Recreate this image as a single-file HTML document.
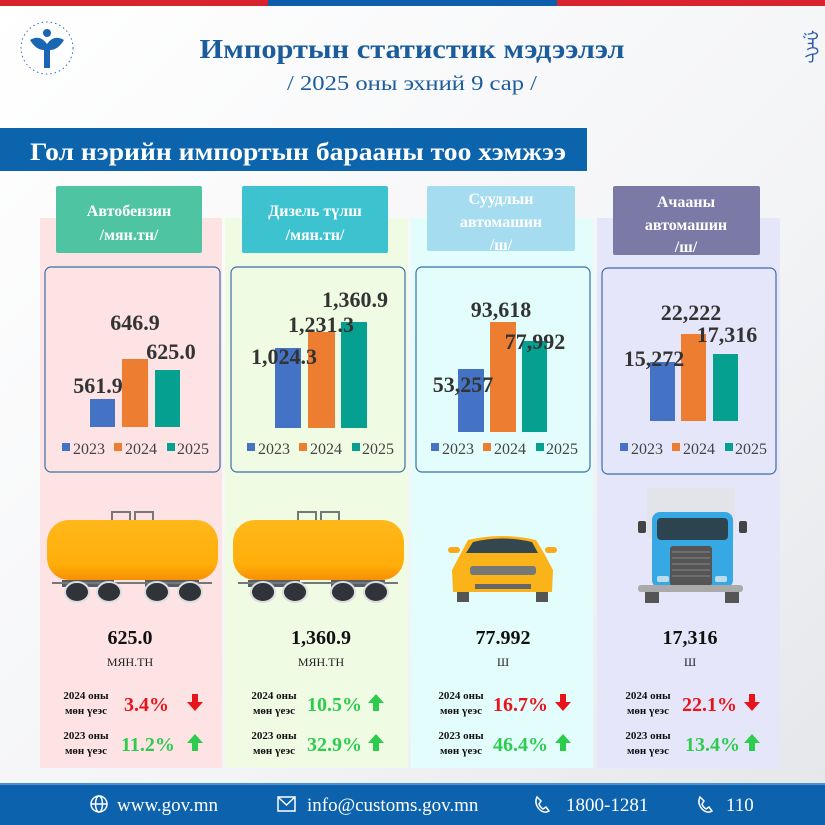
<!DOCTYPE html>
<html><head><meta charset="utf-8"><style>
html,body{margin:0;padding:0;background:#f4f5f7}
svg{display:block}
text{font-family:"Liberation Serif",serif}
.b{font-weight:bold}
</style></head><body>
<svg width="825" height="825" viewBox="0 0 825 825" xmlns="http://www.w3.org/2000/svg">
<defs>
<linearGradient id="bg" x1="0" y1="0" x2="1" y2="1"><stop offset="0" stop-color="#ffffff"/><stop offset="0.6" stop-color="#f3f4f6"/><stop offset="1" stop-color="#e4e6ea"/></linearGradient>
<linearGradient id="tank" x1="0" y1="0" x2="0" y2="1"><stop offset="0" stop-color="#ffb81a"/><stop offset="0.75" stop-color="#ffae0a"/><stop offset="1" stop-color="#f78f05"/></linearGradient>
</defs>
<rect width="825" height="825" fill="url(#bg)"/>
<rect x="0" y="0" width="268" height="6" fill="#d8232f"/>
<rect x="268" y="0" width="289" height="6" fill="#0d5fad"/>
<rect x="557" y="0" width="268" height="6" fill="#d8232f"/>
<circle cx="47" cy="48" r="26" fill="none" stroke="#3d6fb0" stroke-width="1" stroke-dasharray="1.5 3"/>
<path d="M30 40 Q40 34 47 44 Q54 34 64 40 Q58 50 50 50 L50 68 L44 68 L44 50 Q36 50 30 40Z" fill="#1a66b5"/>
<circle cx="47" cy="33" r="4" fill="#1a66b5"/>
<text x="806" y="30" font-size="16" fill="#2a5aa8" transform="rotate(90 806 30)">ᠭᠠᠭᠢ</text>
<text x="412" y="58" text-anchor="middle" class="b" font-size="27" fill="#1b5c9d" textLength="425" lengthAdjust="spacingAndGlyphs">Импортын статистик мэдээлэл</text>
<text x="412" y="90" text-anchor="middle" font-size="21" fill="#1b5c9d" textLength="250" lengthAdjust="spacingAndGlyphs">/ 2025 оны эхний 9 сар /</text>
<rect x="0" y="128" width="587" height="43" fill="#0c64ad"/>
<text x="30" y="160" class="b" font-size="25" fill="#fff" textLength="536" lengthAdjust="spacingAndGlyphs">Гол нэрийн импортын барааны тоо хэмжээ</text>
<rect x="40" y="218" width="182" height="550" fill="#fde3e4"/>
<rect x="225" y="218" width="183" height="550" fill="#f0fbe4"/>
<rect x="411" y="218" width="182" height="550" fill="#e2fdfc"/>
<rect x="597" y="218" width="183" height="550" fill="#e6e6fb"/>
<rect x="56" y="186" width="146" height="67" rx="2" fill="#4ec4a2"/>
<rect x="242" y="186" width="146" height="67" rx="2" fill="#3dc3d0"/>
<rect x="427" y="186" width="148" height="65" rx="2" fill="#a6dcf0"/>
<rect x="613" y="186" width="147" height="69" rx="2" fill="#7b7aa6"/>
<g class="b" font-size="16" fill="#fff" text-anchor="middle">
<text x="129" y="216">Автобензин</text><text x="129" y="240">/мян.тн/</text>
<text x="315" y="216">Дизель түлш</text><text x="315" y="240">/мян.тн/</text>
<text x="501" y="204">Суудлын</text><text x="501" y="227">автомашин</text><text x="501" y="250">/ш/</text>
<text x="686" y="207">Ачааны</text><text x="686" y="230">автомашин</text><text x="686" y="252">/ш/</text>
</g>
<g fill="none" stroke="#3d6ea8" stroke-width="1.2">
<rect x="45" y="267" width="175" height="205" rx="6"/>
<rect x="231" y="267" width="174" height="205" rx="6"/>
<rect x="416" y="267" width="174" height="205" rx="6"/>
<rect x="602" y="268" width="174" height="206" rx="6"/>
</g>
<rect x="90" y="399" width="25" height="28" fill="#4472c4"/><rect x="122" y="359" width="26" height="68" fill="#ed7d31"/><rect x="155" y="370" width="25" height="57" fill="#06a090"/>
<rect x="275" y="348" width="26" height="80" fill="#4472c4"/><rect x="308" y="332" width="27" height="96" fill="#ed7d31"/><rect x="341" y="322" width="26" height="106" fill="#06a090"/>
<rect x="458" y="369" width="26" height="63" fill="#4472c4"/><rect x="490" y="322" width="26" height="110" fill="#ed7d31"/><rect x="522" y="341" width="25" height="91" fill="#06a090"/>
<rect x="650" y="362" width="25" height="59" fill="#4472c4"/><rect x="681" y="334" width="25" height="87" fill="#ed7d31"/><rect x="713" y="354" width="25" height="67" fill="#06a090"/>
<g class="b" font-size="22" fill="#333" text-anchor="middle">
<text x="98" y="393">561.9</text><text x="135" y="330">646.9</text><text x="171" y="359">625.0</text>
<text x="284" y="364">1,024.3</text><text x="321" y="332">1,231.3</text><text x="355" y="307">1,360.9</text>
<text x="463" y="392">53,257</text><text x="501" y="317">93,618</text><text x="535" y="349">77,992</text>
<text x="654" y="366">15,272</text><text x="691" y="320">22,222</text><text x="727" y="342">17,316</text>
</g>
<g font-size="16" fill="#444">
<g transform="translate(62,0)"><rect x="0" y="443" width="8" height="8" fill="#4472c4"/><text x="11" y="454">2023</text><rect x="52" y="443" width="8" height="8" fill="#ed7d31"/><text x="63" y="454">2024</text><rect x="105" y="443" width="8" height="8" fill="#06a090"/><text x="115" y="454">2025</text></g>
<g transform="translate(247,0)"><rect x="0" y="443" width="8" height="8" fill="#4472c4"/><text x="11" y="454">2023</text><rect x="52" y="443" width="8" height="8" fill="#ed7d31"/><text x="63" y="454">2024</text><rect x="105" y="443" width="8" height="8" fill="#06a090"/><text x="115" y="454">2025</text></g>
<g transform="translate(431,0)"><rect x="0" y="443" width="8" height="8" fill="#4472c4"/><text x="11" y="454">2023</text><rect x="52" y="443" width="8" height="8" fill="#ed7d31"/><text x="63" y="454">2024</text><rect x="105" y="443" width="8" height="8" fill="#06a090"/><text x="115" y="454">2025</text></g>
<g transform="translate(620,0)"><rect x="0" y="443" width="8" height="8" fill="#4472c4"/><text x="11" y="454">2023</text><rect x="52" y="443" width="8" height="8" fill="#ed7d31"/><text x="63" y="454">2024</text><rect x="105" y="443" width="8" height="8" fill="#06a090"/><text x="115" y="454">2025</text></g>
</g>
<g id="tk">
<rect x="112" y="512" width="18" height="10" fill="none" stroke="#777" stroke-width="2"/><rect x="135" y="512" width="18" height="10" fill="none" stroke="#777" stroke-width="2"/>
<rect x="47" y="520" width="171" height="60" rx="22" fill="url(#tank)"/>
<rect x="62" y="580" width="52" height="7" fill="#555e66"/><rect x="145" y="580" width="54" height="7" fill="#555e66"/>
<rect x="52" y="582" width="160" height="2" fill="#777"/>
<g fill="#30333a" stroke="#ddd" stroke-width="2"><ellipse cx="77" cy="592" rx="12" ry="10"/><ellipse cx="109" cy="592" rx="12" ry="10"/><ellipse cx="157" cy="592" rx="12" ry="10"/><ellipse cx="190" cy="592" rx="12" ry="10"/></g>
</g>
<use href="#tk" x="186"/>
<g>
<rect x="457" y="590" width="12" height="12" fill="#555"/><rect x="536" y="590" width="12" height="12" fill="#555"/>
<path d="M468 540 Q502 532 536 540 L545 555 L553 570 L552 592 L453 592 L452 570 L460 555Z" fill="#fbb31a"/>
<path d="M473 542 Q502 535 532 542 L538 553 L466 553Z" fill="#34464e"/>
<rect x="448" y="547" width="12" height="6" rx="3" fill="#f9a91a"/><rect x="545" y="547" width="12" height="6" rx="3" fill="#f9a91a"/>
<rect x="470" y="566" width="66" height="9" rx="3" fill="#777"/>
<rect x="475" y="584" width="56" height="5" fill="#666"/>
</g>
<g>
<rect x="647" y="488" width="88" height="50" fill="#e3e3ea"/>
<rect x="645" y="588" width="14" height="15" fill="#555"/><rect x="725" y="588" width="14" height="15" fill="#555"/>
<rect x="652" y="512" width="81" height="76" rx="8" fill="#36a9e4"/>
<rect x="657" y="518" width="71" height="22" rx="4" fill="#2c4450"/>
<rect x="638" y="521" width="8" height="12" rx="2" fill="#444"/><rect x="739" y="521" width="8" height="12" rx="2" fill="#444"/>
<rect x="670" y="546" width="42" height="40" rx="3" fill="#555"/>
<g stroke="#888" stroke-width="1"><line x1="672" y1="552" x2="710" y2="552"/><line x1="672" y1="558" x2="710" y2="558"/><line x1="672" y1="564" x2="710" y2="564"/><line x1="672" y1="570" x2="710" y2="570"/><line x1="672" y1="576" x2="710" y2="576"/></g>
<rect x="657" y="576" width="12" height="6" rx="2" fill="#bde"/><rect x="715" y="576" width="12" height="6" rx="2" fill="#bde"/>
<rect x="638" y="585" width="105" height="7" rx="3" fill="#aaa"/>
</g>
<g class="b" font-size="20" fill="#111" text-anchor="middle">
<text x="130" y="644">625.0</text><text x="321" y="644">1,360.9</text><text x="503" y="644">77.992</text><text x="690" y="644">17,316</text>
</g>
<g font-size="12" fill="#222" text-anchor="middle">
<text x="130" y="666">МЯН.ТН</text><text x="321" y="666">МЯН.ТН</text><text x="503" y="666">Ш</text><text x="690" y="666">Ш</text>
</g>
<g class="b" font-size="11" fill="#111" text-anchor="middle">
<text x="86" y="699">2024 оны</text><text x="86" y="714">мөн үеэс</text><text x="86" y="739">2023 оны</text><text x="86" y="754">мөн үеэс</text>
<text x="274" y="699">2024 оны</text><text x="274" y="714">мөн үеэс</text><text x="274" y="739">2023 оны</text><text x="274" y="754">мөн үеэс</text>
<text x="461" y="699">2024 оны</text><text x="461" y="714">мөн үеэс</text><text x="461" y="739">2023 оны</text><text x="461" y="754">мөн үеэс</text>
<text x="648" y="699">2024 оны</text><text x="648" y="714">мөн үеэс</text><text x="648" y="739">2023 оны</text><text x="648" y="754">мөн үеэс</text>
</g>
<g class="b" font-size="20">
<text x="124" y="711" fill="#e8141c">3.4%</text><text x="121" y="751" fill="#2dcc4f">11.2%</text>
<text x="307" y="711" fill="#2dcc4f">10.5%</text><text x="307" y="751" fill="#2dcc4f">32.9%</text>
<text x="493" y="711" fill="#e8141c">16.7%</text><text x="493" y="751" fill="#2dcc4f">46.4%</text>
<text x="682" y="711" fill="#e8141c">22.1%</text><text x="685" y="751" fill="#2dcc4f">13.4%</text>
</g>
<g fill="#e8141c">
<path d="M192 694h6v8h5l-8 9l-8-9h5z"/>
<path d="M560 694h6v8h5l-8 9l-8-9h5z"/>
<path d="M749 694h6v8h5l-8 9l-8-9h5z"/>
</g>
<g fill="#2dcc4f">
<path d="M192 751h6v-8h5l-8-9l-8 9h5z"/>
<path d="M373 711h6v-8h5l-8-9l-8 9h5z"/>
<path d="M373 751h6v-8h5l-8-9l-8 9h5z"/>
<path d="M560 751h6v-8h5l-8-9l-8 9h5z"/>
<path d="M749 751h6v-8h5l-8-9l-8 9h5z"/>
</g>
<rect x="0" y="783" width="825" height="42" fill="#0d62ad"/>
<rect x="0" y="783" width="825" height="2" fill="#4a8fd0"/>
<g fill="none" stroke="#fff" stroke-width="1.5">
<circle cx="99" cy="804" r="8"/><ellipse cx="99" cy="804" rx="3.5" ry="8"/><line x1="91" y1="804" x2="107" y2="804"/>
<rect x="278" y="797" width="17" height="14"/><path d="M278 797l8.5 8l8.5-8"/>
<path d="M537 797q-3 6 2 12q5 5 10 2l-3-4l-3 2q-3-2-4-5l2-3z"/>
<path d="M700 797q-3 6 2 12q5 5 10 2l-3-4l-3 2q-3-2-4-5l2-3z"/>
</g>
<g font-size="19" fill="#fff">
<text x="117" y="811">www.gov.mn</text>
<text x="307" y="811">info@customs.gov.mn</text>
<text x="566" y="811">1800-1281</text>
<text x="726" y="811">110</text>
</g>
</svg>
</body></html>
